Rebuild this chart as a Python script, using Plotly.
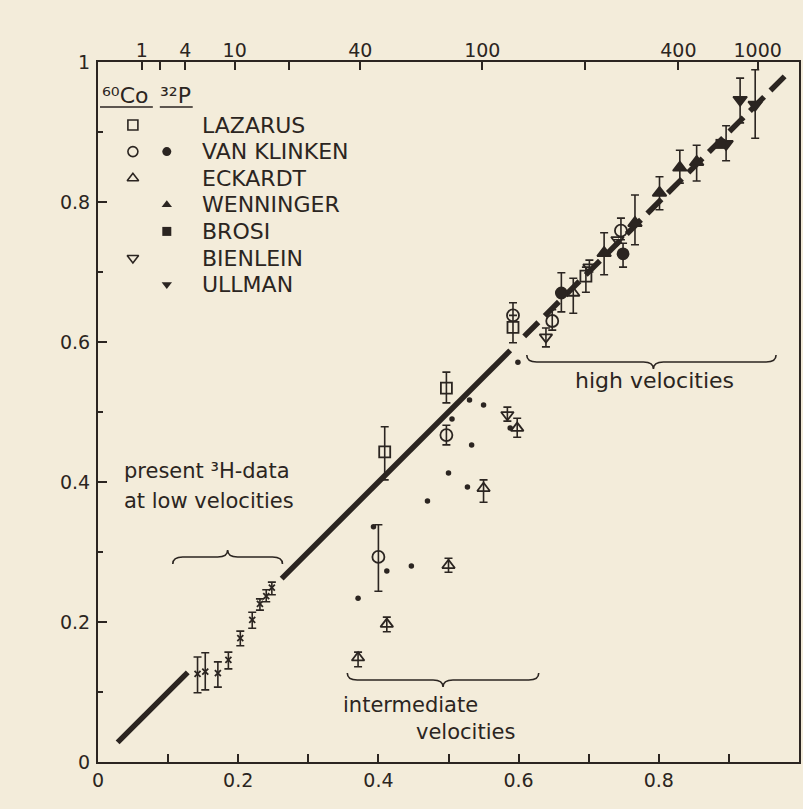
import numpy as np
import plotly.graph_objects as go

# ---------------------------------------------------------------- data
# LAZARUS (60Co, open squares)
laz_x = [0.409, 0.497, 0.592, 0.696]
laz_y = [0.443, 0.534, 0.621, 0.694]
laz_hi = [0.479, 0.557, 0.656, 0.707]
laz_lo = [0.403, 0.513, 0.599, 0.671]

# VAN KLINKEN (60Co, open circles)
vko_x = [0.400, 0.497, 0.592, 0.648, 0.746]
vko_y = [0.293, 0.467, 0.638, 0.630, 0.759]
vko_hi = [0.339, 0.481, None, 0.646, 0.777]
vko_lo = [0.244, 0.453, None, 0.617, 0.746]

# VAN KLINKEN (32P, filled circles)
vkf_x = [0.661, 0.749]
vkf_y = [0.670, 0.726]
vkf_hi = [0.699, 0.741]
vkf_lo = [0.643, 0.707]

# ECKARDT (60Co, open triangles)
eck_x = [0.371, 0.412, 0.500, 0.550, 0.598, 0.678]
eck_y = [0.149, 0.197, 0.281, 0.391, 0.477, 0.670]
eck_hi = [0.157, 0.207, 0.291, 0.403, 0.491, 0.691]
eck_lo = [0.136, 0.186, 0.271, 0.371, 0.464, 0.641]

# WENNINGER (32P, filled triangles)
wen_x = [0.722, 0.766, 0.801, 0.830, 0.854]
wen_y = [0.727, 0.770, 0.813, 0.849, 0.857]
wen_hi = [0.756, 0.810, 0.836, 0.874, 0.881]
wen_lo = [0.696, 0.739, 0.789, 0.827, 0.830]

# BROSI (32P, filled square)
bro_x = [0.888]
bro_y = [0.883]

# BIENLEIN (60Co, open inverted triangles)
bie_x = [0.584, 0.639, 0.701, 0.741]
bie_y = [0.496, 0.607, 0.707, 0.746]
bie_hi = [0.507, 0.620, 0.717, None]
bie_lo = [0.487, 0.593, 0.700, None]

# ULLMAN (32P, filled inverted triangles)
ull_x = [0.896, 0.916, 0.9375]
ull_y = [0.883, 0.946, 0.939]
ull_hi = [0.909, 0.977, 0.989]
ull_lo = [0.859, 0.913, 0.891]

# intermediate-velocity values without error bars
dot_x = [0.371, 0.393, 0.412, 0.447, 0.470, 0.500, 0.505, 0.527,
         0.530, 0.533, 0.550, 0.588, 0.599]
dot_y = [0.234, 0.336, 0.273, 0.280, 0.373, 0.413, 0.490, 0.393,
         0.517, 0.453, 0.510, 0.477, 0.571]

# present 3H data at low velocities
h3_x = [0.142, 0.153, 0.171, 0.186, 0.203, 0.220, 0.231, 0.240, 0.248]
h3_y = [0.126, 0.129, 0.127, 0.146, 0.177, 0.203, 0.226, 0.237, 0.249]
h3_hi = [0.150, 0.156, 0.143, 0.157, 0.187, 0.214, 0.233, 0.246, 0.257]
h3_lo = [0.099, 0.103, 0.107, 0.133, 0.166, 0.191, 0.217, 0.229, 0.239]

# -P/Lambda = v/c reference line, drawn in pieces
line_solid_x = [0.028, 0.128, None, 0.262, 0.588]
line_dash_x = [0.608, 0.985]

# kinetic energy scale on the top axis
energy_labeled = [1, 4, 10, 40, 100, 400, 1000]
energy_unlabeled = [2, 20, 200]
ME_C2 = 511.0

# ---------------------------------------------------------------- style
INK = "#2b2521"
PAPER = "#f3ecda"
FONT = "DejaVu Sans"

W, H = 803, 809
L, R, T, B = 98, 801, 62, 762


def dxp(px):
    return (px - L) / (R - L)


def dyp(py):
    return (B - py) / (B - T)


def beta_of(kev):
    return float(np.sqrt(1 - 1 / (1 + kev / ME_C2) ** 2))


def err(y, hi, lo):
    plus = [None if h is None else h - v for v, h in zip(y, hi)]
    minus = [None if l is None else v - l for v, l in zip(y, lo)]
    return dict(type="data", symmetric=False, array=plus, arrayminus=minus,
                color=INK, thickness=1.6, width=4)


fig = go.Figure()

# reference line
fig.add_trace(go.Scatter(x=line_solid_x, y=line_solid_x, mode="lines",
                         line=dict(color=INK, width=5.5), connectgaps=False,
                         hoverinfo="skip", showlegend=False))
fig.add_trace(go.Scatter(x=line_dash_x, y=line_dash_x, mode="lines",
                         line=dict(color=INK, width=5.5, dash="20px,9px"),
                         hoverinfo="skip", showlegend=False))

series = [
    (laz_x, laz_y, laz_hi, laz_lo, "square-open", 11),
    (vko_x, vko_y, vko_hi, vko_lo, "circle-open", 12),
    (vkf_x, vkf_y, vkf_hi, vkf_lo, "circle", 11),
    (eck_x, eck_y, eck_hi, eck_lo, "triangle-up-open", 11),
    (wen_x, wen_y, wen_hi, wen_lo, "triangle-up", 12),
    (bie_x, bie_y, bie_hi, bie_lo, "triangle-down-open", 11),
    (ull_x, ull_y, ull_hi, ull_lo, "triangle-down", 12),
    (h3_x, h3_y, h3_hi, h3_lo, "x-thin", 6),
]
for xs, ys, hi, lo, sym, size in series:
    fig.add_trace(go.Scatter(
        x=xs, y=ys, mode="markers", error_y=err(ys, hi, lo),
        marker=dict(symbol=sym, size=size, color=INK,
                    line=dict(color=INK, width=1.8)),
        showlegend=False))

fig.add_trace(go.Scatter(x=bro_x, y=bro_y, mode="markers",
                         marker=dict(symbol="square", size=10, color=INK),
                         showlegend=False))
fig.add_trace(go.Scatter(x=dot_x, y=dot_y, mode="markers",
                         marker=dict(symbol="circle", size=5.5, color=INK),
                         showlegend=False))

# top axes carriers (labelled and unlabelled energy ticks)
for ax in ("x2", "x3"):
    fig.add_trace(go.Scatter(x=[0, 1], y=[0, 0], xaxis=ax, mode="markers",
                             marker=dict(opacity=0), hoverinfo="skip",
                             showlegend=False))

# ---------------------------------------------------------------- legend block
leg_names = ["LAZARUS", "VAN KLINKEN", "ECKARDT", "WENNINGER", "BROSI",
             "BIENLEIN", "ULLMAN"]
leg_open = ["square-open", "circle-open", "triangle-up-open", None, None,
            "triangle-down-open", None]
leg_fill = [None, "circle", None, "triangle-up", "square", None,
            "triangle-down"]
row0, row_step = 125, 26.6
open_px, fill_px, text_px = 133, 167, 200

annotations = []
for i, name in enumerate(leg_names):
    py = row0 + i * row_step
    annotations.append(dict(x=dxp(text_px), y=dyp(py), text=name,
                            xanchor="left", yanchor="middle", showarrow=False,
                            font=dict(size=22, color=INK, family=FONT)))
    if leg_open[i]:
        fig.add_trace(go.Scatter(x=[dxp(open_px)], y=[dyp(py)], mode="markers",
                                 marker=dict(symbol=leg_open[i], size=10, color=INK,
                                             line=dict(color=INK, width=1.6)),
                                 showlegend=False, hoverinfo="skip"))
    if leg_fill[i]:
        fig.add_trace(go.Scatter(x=[dxp(fill_px)], y=[dyp(py)], mode="markers",
                                 marker=dict(symbol=leg_fill[i], size=9, color=INK),
                                 showlegend=False, hoverinfo="skip"))

annotations += [
    dict(x=dxp(100), y=dyp(95), text="⁶⁰Co", xanchor="left",
         yanchor="middle", showarrow=False, font=dict(size=22, color=INK, family=FONT)),
    dict(x=dxp(158), y=dyp(95), text="³²P", xanchor="left",
         yanchor="middle", showarrow=False, font=dict(size=22, color=INK, family=FONT)),
]

shapes = [
    dict(type="line", xref="x", yref="y", x0=dxp(100), x1=dxp(153),
         y0=dyp(107), y1=dyp(107), line=dict(color=INK, width=1.6)),
    dict(type="line", xref="x", yref="y", x0=dxp(160), x1=dxp(193),
         y0=dyp(107), y1=dyp(107), line=dict(color=INK, width=1.6)),
]


def brace(x0, x1, y, tip, h=7, down=True):
    """Horizontal curly brace in page pixels; tip points down or up."""
    s = 1 if down else -1
    r = 10
    pts = [
        f"M{dxp(x0)},{dyp(y - s * h)}",
        f"Q{dxp(x0)},{dyp(y)} {dxp(x0 + r)},{dyp(y)}",
        f"L{dxp(tip - r)},{dyp(y)}",
        f"Q{dxp(tip)},{dyp(y)} {dxp(tip)},{dyp(y + s * h)}",
        f"Q{dxp(tip)},{dyp(y)} {dxp(tip + r)},{dyp(y)}",
        f"L{dxp(x1 - r)},{dyp(y)}",
        f"Q{dxp(x1)},{dyp(y)} {dxp(x1)},{dyp(y - s * h)}",
    ]
    return dict(type="path", xref="x", yref="y", path=" ".join(pts),
                line=dict(color=INK, width=1.6))


shapes += [
    brace(173, 283, 557, 228, down=False),
    brace(348, 540, 680, 444, down=True),
    brace(528, 778, 362, 655, down=True),
]

# text labels
annotations += [
    dict(x=dxp(122), y=dyp(471), text="present ³H-data", xanchor="left",
         yanchor="middle", showarrow=False, font=dict(size=21, color=INK, family=FONT)),
    dict(x=dxp(122), y=dyp(501), text="at low velocities", xanchor="left",
         yanchor="middle", showarrow=False, font=dict(size=21, color=INK, family=FONT)),
    dict(x=dxp(342), y=dyp(705), text="intermediate", xanchor="left",
         yanchor="middle", showarrow=False, font=dict(size=21, color=INK, family=FONT)),
    dict(x=dxp(415), y=dyp(732), text="velocities", xanchor="left",
         yanchor="middle", showarrow=False, font=dict(size=21, color=INK, family=FONT)),
    dict(x=dxp(656), y=dyp(380), text="high velocities", xanchor="center",
         yanchor="middle", showarrow=False, font=dict(size=22, color=INK, family=FONT)),
    dict(x=dxp(532), y=dyp(18), text="kinetic energy (keV)", xanchor="center",
         yanchor="middle", showarrow=False, font=dict(size=19, color=INK, family=FONT)),
    dict(x=dxp(568), y=dyp(806), text="v/c", xanchor="center",
         yanchor="middle", showarrow=False, font=dict(size=19, color=INK, family=FONT)),
    # -P/Lambda ordinate label
    dict(x=dxp(14), y=dyp(247), text="-", xanchor="center", yanchor="middle",
         showarrow=False, font=dict(size=19, color=INK, family=FONT)),
    dict(x=dxp(38), y=dyp(236), text="P", xanchor="center", yanchor="middle",
         showarrow=False, font=dict(size=17, color=INK, family=FONT)),
    dict(x=dxp(38), y=dyp(259), text="Λ", xanchor="center", yanchor="middle",
         showarrow=False, font=dict(size=17, color=INK, family=FONT)),
]
shapes.append(dict(type="line", xref="x", yref="y", x0=dxp(29), x1=dxp(47),
                   y0=dyp(247), y1=dyp(247), line=dict(color=INK, width=1.6)))

for a in annotations:
    a.setdefault("xref", "x")
    a.setdefault("yref", "y")

axis_font = dict(size=19, color=INK, family=FONT)
top_common = dict(overlaying="x", side="top", range=[0, 1], tickmode="array",
                  ticks="inside", ticklen=8, tickwidth=1.6, tickcolor=INK,
                  showgrid=False, zeroline=False, showline=False,
                  tickfont=axis_font)

fig.update_layout(
    width=W, height=H,
    margin=dict(l=L, r=W - R, t=T, b=H - B),
    paper_bgcolor=PAPER, plot_bgcolor=PAPER,
    showlegend=False,
    annotations=annotations, shapes=shapes,
    xaxis=dict(range=[0, 1], tick0=0, dtick=0.2, ticks="inside", ticklen=8,
               tickwidth=1.6, tickcolor=INK, showline=True, linecolor=INK,
               linewidth=2, mirror=True, showgrid=False, zeroline=False,
               tickfont=axis_font,
               minor=dict(dtick=0.1, ticks="inside", ticklen=8, tickwidth=1.6,
                          tickcolor=INK, showgrid=False)),
    xaxis2=dict(**top_common,
                tickvals=[beta_of(e) for e in energy_labeled],
                ticktext=[str(e) for e in energy_labeled]),
    xaxis3=dict(**top_common,
                tickvals=[beta_of(e) for e in energy_unlabeled],
                showticklabels=False),
    yaxis=dict(range=[0, 1], tick0=0, dtick=0.2, ticks="inside", ticklen=9,
               tickwidth=1.6, tickcolor=INK, showline=True, linecolor=INK,
               linewidth=2, mirror=True, showgrid=False, zeroline=False,
               tickfont=axis_font, ticklabelstandoff=2,
               minor=dict(dtick=0.1, ticks="inside", ticklen=5, tickwidth=1.6,
                          tickcolor=INK, showgrid=False)),
)

for tr in fig.data:
    tr.cliponaxis = False

fig.write_html("out.html")
